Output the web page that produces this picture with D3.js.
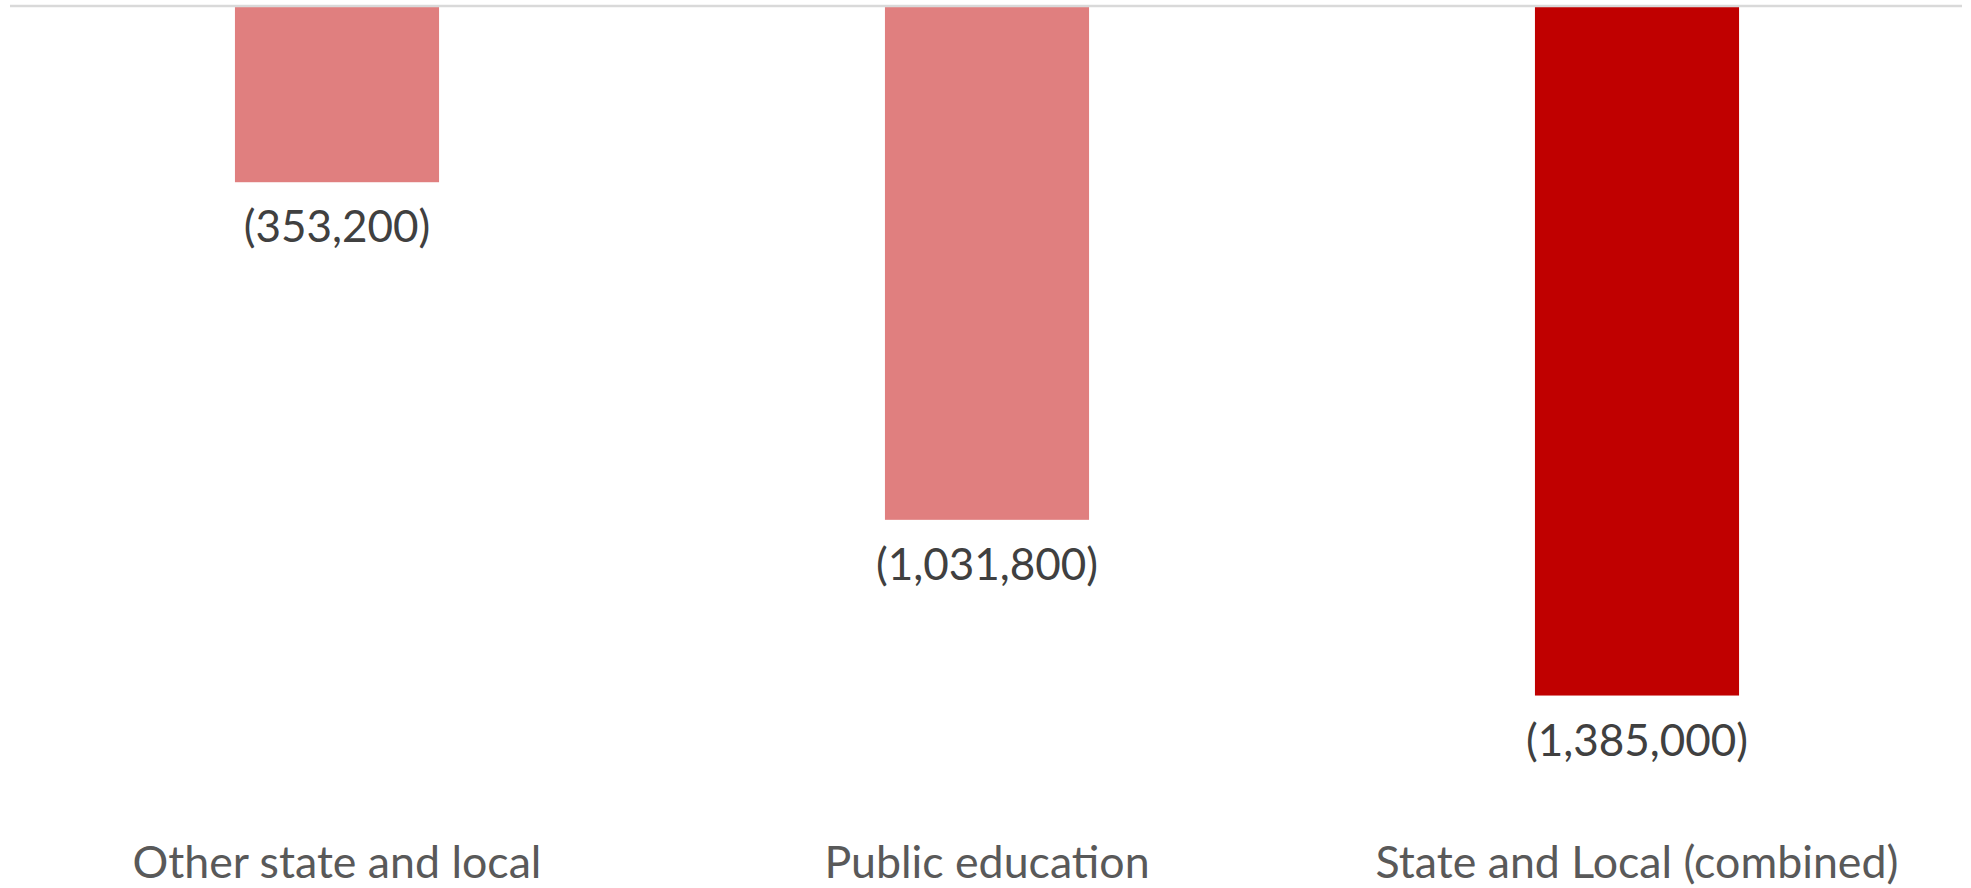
<!DOCTYPE html>
<html>
<head>
<meta charset="utf-8">
<script src="https://cdn.jsdelivr.net/npm/d3@7/dist/d3.min.js"></script>
<style>
  html, body { margin: 0; padding: 0; background: #ffffff; }
  svg { display: block; }
  text { font-family: Lato, "Open Sans", sans-serif; }
</style>
</head>
<body>
<svg id="chart" width="1971" height="888"></svg>
<script>
// Change in employment, by government sector
const categories = ["Other state and local", "Public education", "State and Local (combined)"];
const values = [-353200, -1031800, -1385000];
const barColors = ["#E07F7F", "#E07F7F", "#C00000"];

const width = 1971, height = 888;
const svg = d3.select("#chart");

const x = d3.scaleBand()
  .domain(categories)
  .range([12, 1962])
  .paddingInner(0.686)
  .paddingOuter(0.343);

const y = d3.scaleLinear()
  .domain([-1600000, 0])
  .range([802.5, 6.5]);

const fmt = v => "(" + d3.format(",")(Math.abs(v)) + ")";

// bars hanging from the zero line
svg.append("g")
  .selectAll("rect")
  .data(values)
  .join("rect")
  .attr("x", (d, i) => x(categories[i]))
  .attr("width", x.bandwidth())
  .attr("y", y(0))
  .attr("height", d => y(d) - y(0))
  .attr("fill", (d, i) => barColors[i]);

// zero line
svg.append("line")
  .attr("x1", 10).attr("x2", 1962)
  .attr("y1", y(0) - 0.5).attr("y2", y(0) - 0.5)
  .attr("stroke", "#d9d9d9")
  .attr("stroke-width", 2.5);

// value labels under each bar
svg.append("g")
  .selectAll("text")
  .data(values)
  .join("text")
  .attr("x", (d, i) => x(categories[i]) + x.bandwidth() / 2)
  .attr("y", d => y(d) + 60)
  .attr("text-anchor", "middle")
  .attr("fill", "#404040")
  .style("font-size", "44px")
  .text(fmt);

// category labels along the bottom
const xAxis = d3.axisBottom(x).tickSize(0).tickPadding(0);
const gx = svg.append("g")
  .attr("transform", "translate(0,846)")
  .call(xAxis);
gx.select(".domain").remove();
gx.selectAll("text")
  .attr("fill", "#595959")
  .attr("dy", "0.71em")
  .style("font-size", "44.7px")
  .style("font-family", "Lato, 'Open Sans', sans-serif");
</script>
</body>
</html>
